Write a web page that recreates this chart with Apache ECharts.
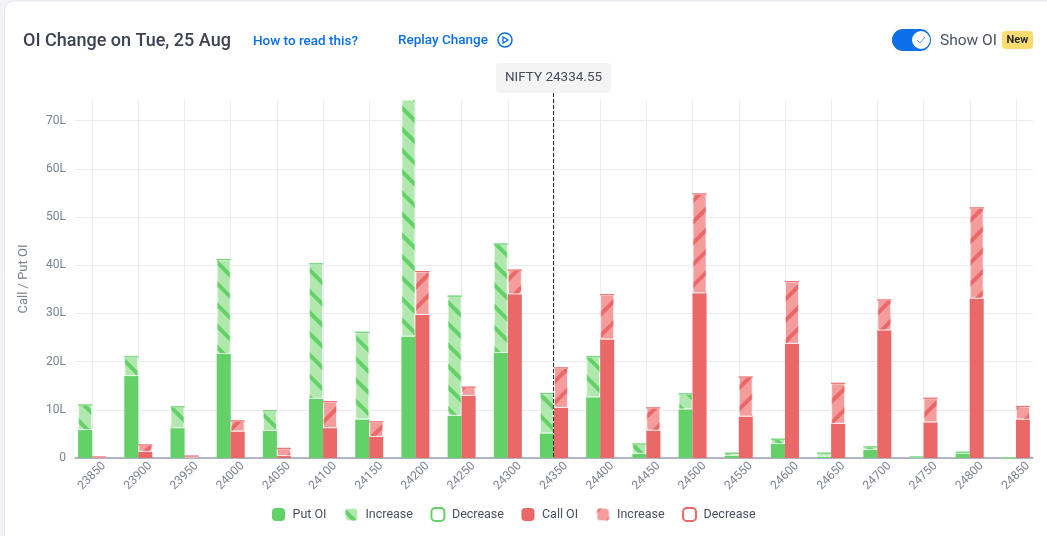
<!DOCTYPE html>
<html><head><meta charset="utf-8">
<style>html,body{margin:0;padding:0;background:#fff}#c{width:1047px;height:536px}</style>
<script src="https://cdn.jsdelivr.net/npm/echarts@6/dist/echarts.min.js"></script>
</head><body><div id="c"></div>
<script>
const strikes=[23850,23900,23950,24000,24050,24100,24150,24200,24250,24300,24350,24400,24450,24500,24550,24600,24650,24700,24750,24800,24850];
const putBase=[5.8,17.0,6.2,21.6,5.6,12.3,8.0,25.2,8.8,21.8,5.1,12.6,0.9,10.1,0.5,2.9,0.3,1.7,0.05,0.9,0];
const putIncrease=[5.2,4.0,4.4,19.6,4.2,28.0,18.1,49.8,24.8,22.6,8.3,8.4,2.0,3.2,0.5,1.0,0.7,0.6,0.15,0.3,0];
const callBase=[0,1.3,0.1,5.5,0.4,6.2,4.4,29.7,12.9,34.0,10.4,24.6,5.7,34.2,8.6,23.7,7.1,26.5,7.4,33.1,8.0];
const callIncrease=[0.2,1.4,0.3,2.2,1.6,5.5,3.1,9.0,1.8,5.0,8.3,9.3,4.7,20.6,8.2,12.9,8.4,6.3,5.0,18.8,2.7];
const yTicks=[0,10,20,30,40,50,60,70];
const spotLabel='NIFTY 24334.55';

const GREEN='#63d168',GREEN_L='#b1e8ae',RED='#eb6868',RED_L='#f59d9d',BLUE='#0a6fe8',TXT='#3c4252',AX='#7c8292',GRID='#e9ebf0';
const ICON='path://M3.5 0H8.5A3.5 3.5 0 0 1 12 3.5V8.5A3.5 3.5 0 0 1 8.5 12H3.5A3.5 3.5 0 0 1 0 8.5V3.5A3.5 3.5 0 0 1 3.5 0Z';
const stripe=(color,rot)=>({symbol:'rect',color,dashArrayX:[[1,0]],dashArrayY:[4,10.5],rotation:rot,maxTileWidth:200,maxTileHeight:200,symbolSize:1});
const bar=(name,stack,data,itemStyle,extra)=>Object.assign({type:'bar',name,stack,data,xAxisIndex:1,yAxisIndex:1,barWidth:14,barGap:'0%',itemStyle,emphasis:{disabled:true},silent:true,animation:false},extra||{});
const none=strikes.map(()=>0);

const chart=echarts.init(document.getElementById('c'),null,{renderer:'canvas'});
chart.setOption({
 animation:false,
 backgroundColor:'#fff',
 textStyle:{fontFamily:'Roboto'},
 grid:[{left:75,right:14,top:100,bottom:78},{left:69,right:8,top:100,bottom:78}],
 xAxis:[{type:'value',gridIndex:0,min:23831.6,max:24868.4,
  axisLine:{show:true,onZero:false,lineStyle:{color:'#9aa3b5',width:1.5}},
  axisTick:{show:false,customValues:strikes},
  splitLine:{show:true,lineStyle:{color:GRID,width:1}},
  axisLabel:{customValues:strikes,rotate:45,color:AX,fontSize:12,margin:18,align:'center',verticalAlign:'middle',formatter:v=>String(v)}},
  {type:'category',gridIndex:1,data:strikes,show:false}],
 yAxis:[{type:'value',gridIndex:0,min:0,max:74.3,
  name:'Call / Put OI',nameLocation:'middle',nameGap:45,nameRotate:90,nameTextStyle:{color:AX,fontSize:13},
  axisLine:{show:false},axisTick:{show:false,customValues:yTicks},
  splitLine:{show:true,lineStyle:{color:GRID,width:1}},
  axisLabel:{customValues:yTicks,color:AX,fontSize:12,margin:9,padding:[3,0,0,0],formatter:v=>v===0?'0':v+'L'}},
  {type:'value',gridIndex:1,min:0,max:74.3,show:false,splitLine:{show:false}}],
 legend:{left:267,top:502,itemWidth:13,itemHeight:13,itemGap:17.5,
  textStyle:{color:'#4a5060',fontSize:12.5,padding:[0,0,0,2.5]},
  icon:ICON,selectedMode:false,formatter:n=>n.trim(),
  data:['Put OI','Increase','Decrease','Call OI','Increase ','Decrease ']},
 series:[
  bar('Put OI','put',putBase,{color:GREEN}),
  bar('Increase','put',putIncrease,{color:GREEN_L,decal:stripe(GREEN,Math.PI/4),borderColor:'rgba(255,255,255,.45)',borderWidth:1}),
  bar('Decrease','put',none,{color:'#fff',borderColor:GREEN,borderWidth:0.8}),
  bar('Call OI','call',callBase,{color:RED}),
  bar('Increase ','call',callIncrease,{color:RED_L,decal:stripe(RED,-Math.PI/4),borderColor:'rgba(255,255,255,.45)',borderWidth:1}),
  bar('Decrease ','call',none,{color:'#fff',borderColor:RED,borderWidth:0.8}),
  {type:'scatter',xAxisIndex:0,yAxisIndex:0,data:[],silent:true,z:5,clip:false,
   markLine:{silent:true,symbol:'none',animation:false,precision:2,z:5,
    lineStyle:{color:'#2a2d38',type:'dashed',width:1},
    label:{show:true,position:'start',formatter:spotLabel,color:'#474c5a',fontSize:13.5,backgroundColor:'#f4f4f5',borderRadius:4,padding:[8,9,8,9],distance:0},
    data:[[{x:553.5,y:93},{x:553.5,yAxis:0}]]}}
 ],
 graphic:[
  {type:'rect',z:-10,silent:true,shape:{x:0,y:0,width:1047,height:536},style:{fill:'#f1f3f6'}},
  {type:'rect',z:-9,silent:true,shape:{x:4.5,y:1,width:1060,height:560,r:9},style:{fill:'#fff',stroke:'#e2e6ed',lineWidth:1}},
  {type:'text',left:23,top:32,style:{text:'OI Change on Tue, 25 Aug',fill:TXT,font:'500 18px Roboto'}},
  {type:'text',left:253,top:35,style:{text:'How to read this?',fill:BLUE,font:'500 13.5px Roboto'}},
  {type:'text',left:398,top:34,style:{text:'Replay Change',fill:BLUE,font:'500 13.5px Roboto'}},
  {type:'circle',shape:{cx:505,cy:40,r:7},style:{fill:'none',stroke:BLUE,lineWidth:1.5}},
  {type:'polygon',shape:{points:[[503,37],[503,43],[508,40]]},style:{fill:'none',stroke:BLUE,lineWidth:1.3}},
  {type:'rect',shape:{x:892,y:29,width:39,height:22,r:11},style:{fill:BLUE}},
  {type:'circle',shape:{cx:921,cy:40,r:9},style:{fill:'#fff'}},
  {type:'polyline',shape:{points:[[917,40],[920,43],[925,37]]},style:{fill:'none',stroke:'#5a9be8',lineWidth:1}},
  {type:'text',left:940,top:33,style:{text:'Show OI',fill:'#4a5060',font:'15.5px Roboto'}},
  {type:'rect',shape:{x:1002,y:31,width:31,height:18,r:4},style:{fill:'#ffdc70'}},
  {type:'text',left:1006.5,top:34.5,style:{text:'New',fill:'#2a2a2a',font:'700 11px Roboto'}}
 ]
});
</script></body></html>
